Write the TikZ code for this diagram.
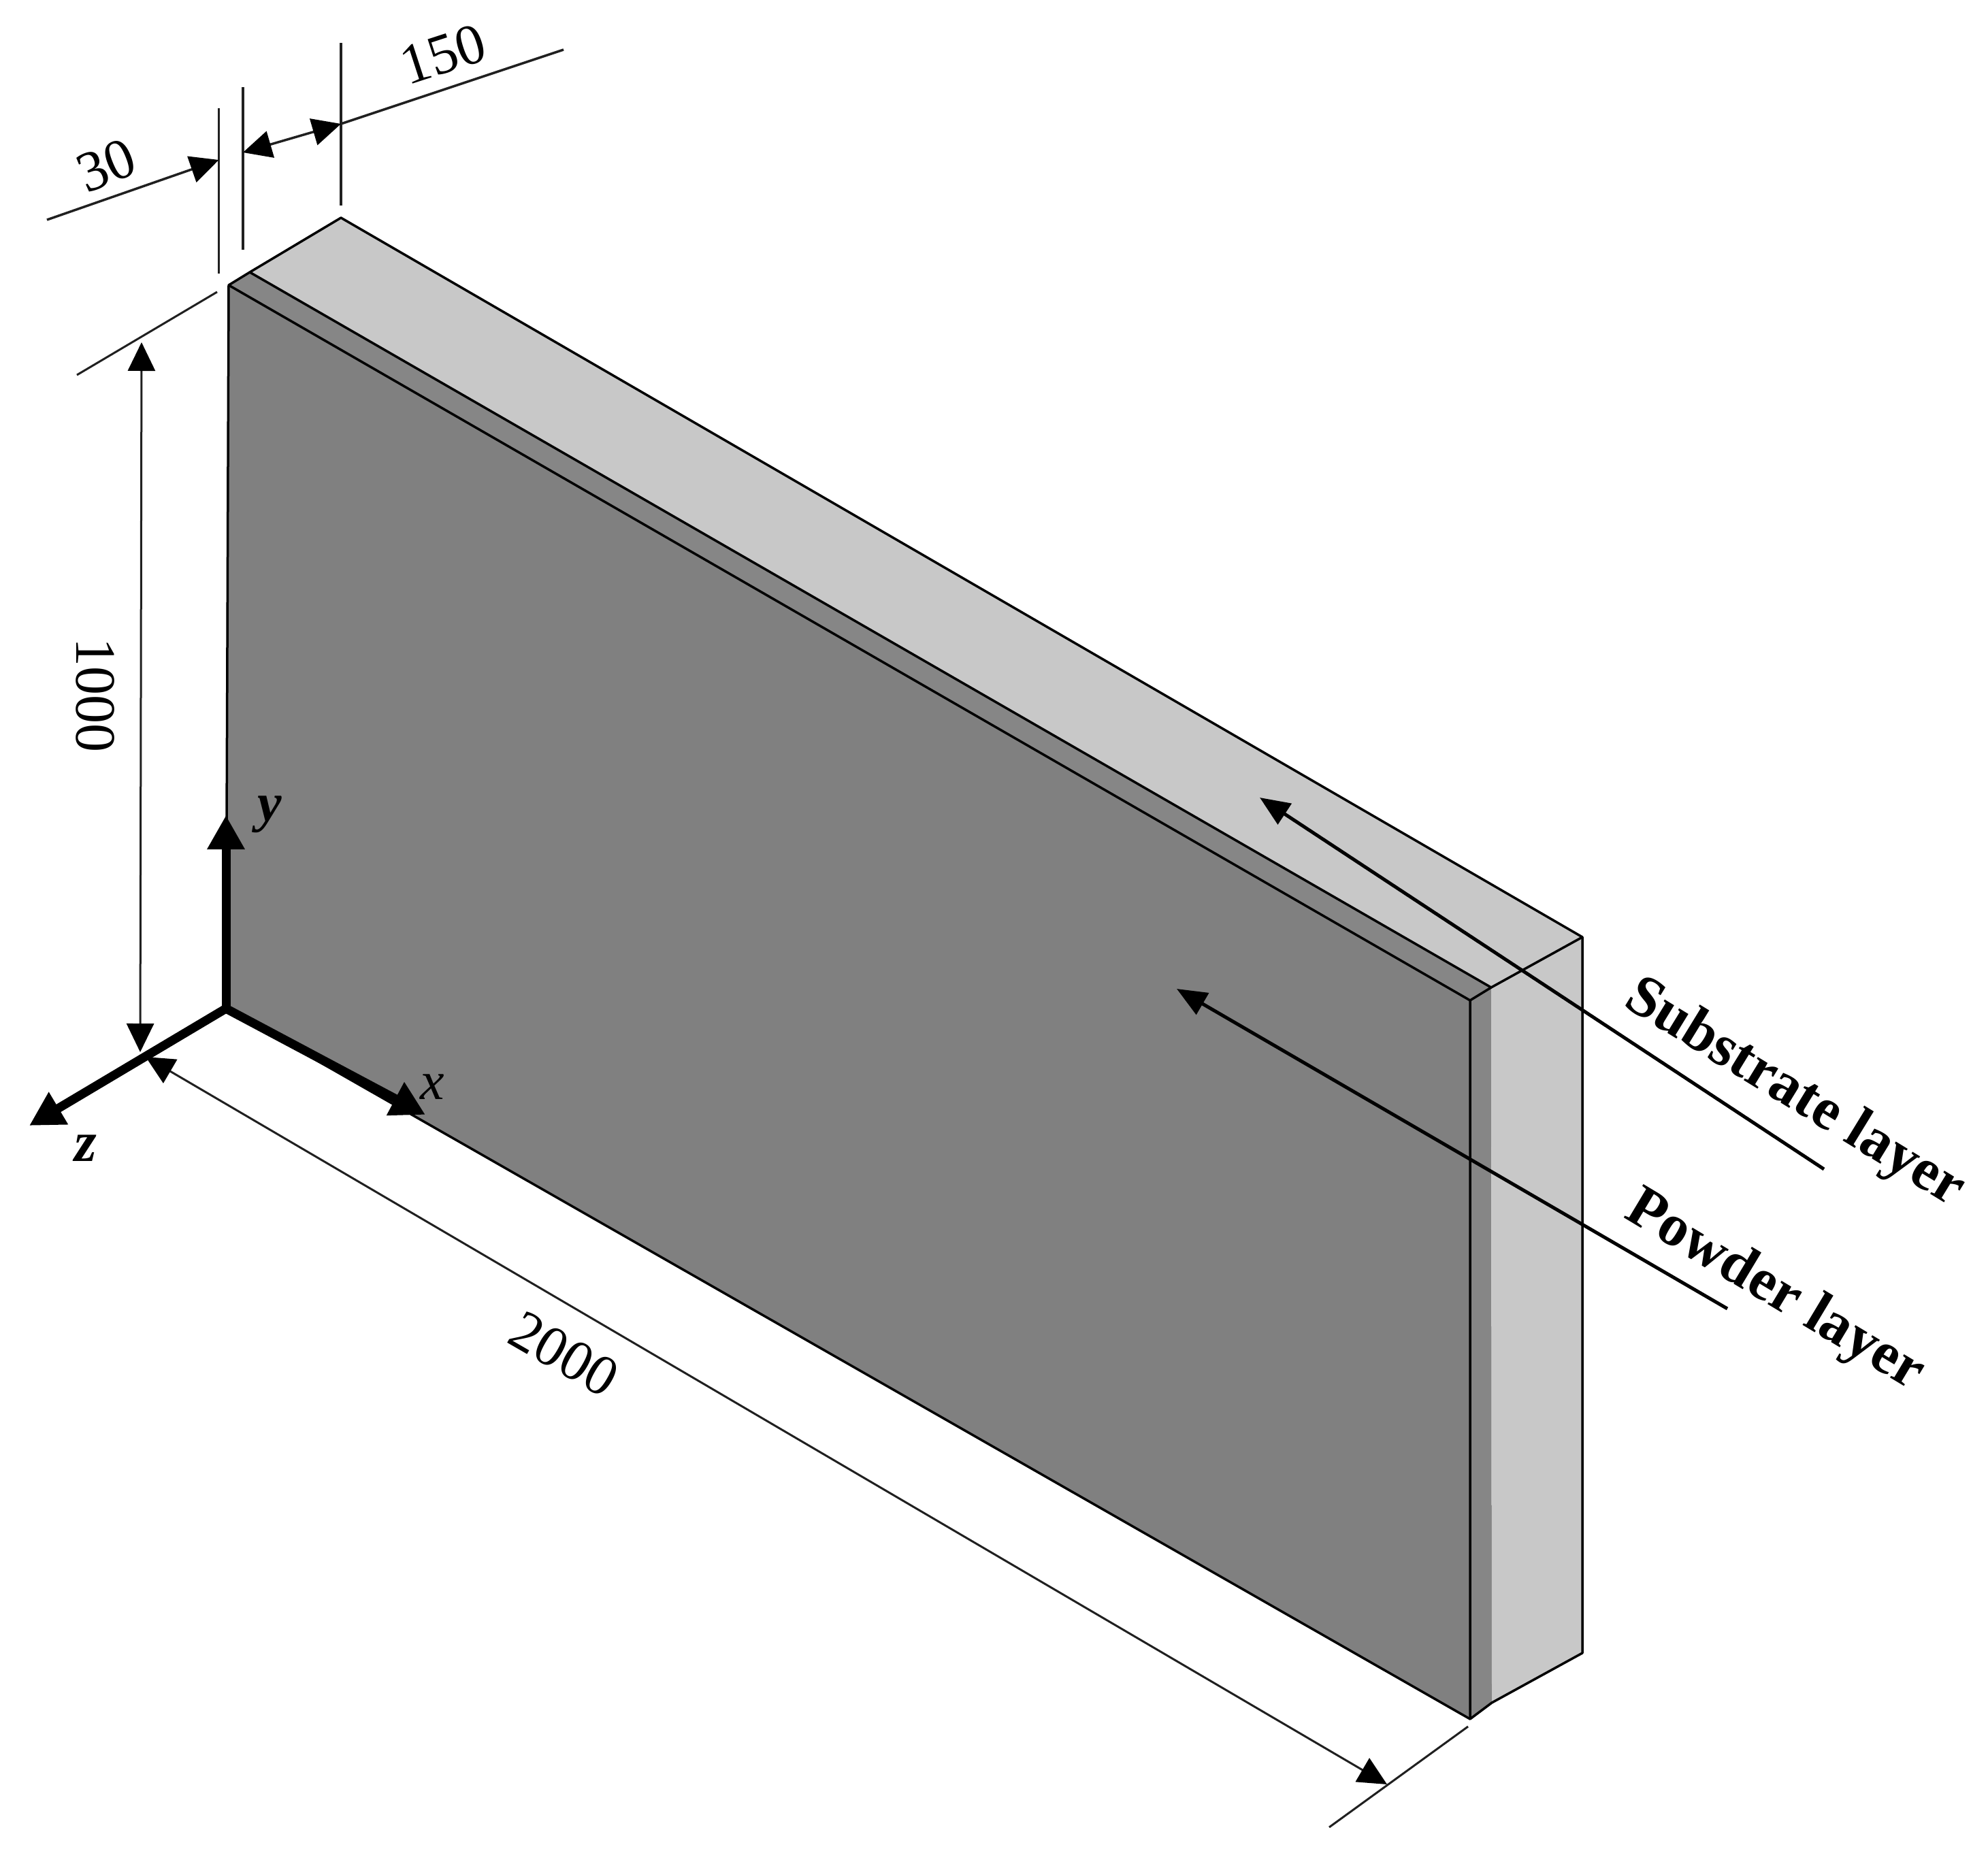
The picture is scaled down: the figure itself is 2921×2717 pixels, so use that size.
\documentclass[tikz,border=0pt]{standalone}
\usepackage{fontspec}
\setmainfont{Liberation Serif}
\usetikzlibrary{arrows.meta}
\definecolor{frontgray}{HTML}{808080}
\definecolor{stripgray}{HTML}{868686}
\definecolor{lightgray}{HTML}{C8C8C8}
\definecolor{dimgray}{HTML}{202020}
\tikzset{
  edge/.style={draw=black,line width=3.5pt,line join=round},
  dimline/.style={draw=dimgray,line width=3.5pt},
  thindim/.style={draw=dimgray,line width=3pt},
  dimhead/.style={-{Triangle[length=42pt,width=40pt,fill=black,color=black]}},
  dimboth/.style={{Triangle[length=42pt,width=40pt,fill=black,color=black]}-{Triangle[length=42pt,width=40pt,fill=black,color=black]}},
  axisline/.style={draw=black,line width=13pt,-{Triangle[length=50pt,width=52pt]}},
  callout/.style={draw=black,line width=5pt,-{Triangle[length=44pt,width=36pt]}},
  dimlabel/.style={inner sep=0pt,font=\fontsize{84}{92}\selectfont},
  axislabel/.style={inner sep=0pt,font=\fontsize{80}{88}\selectfont\itshape},
  layerlabel/.style={inner sep=0pt,font=\fontsize{87}{95}\selectfont\bfseries}
}
\begin{document}
\begin{tikzpicture}[x=1pt,y=-1pt]
\useasboundingbox (0,0) rectangle (2921,2717);
% block corners
\coordinate (fTL) at (336,419);
\coordinate (fBL) at (332,1482);
\coordinate (fTR) at (2160,1470);
\coordinate (fBR) at (2160,2526);
\coordinate (mTL) at (367,400);
\coordinate (mTR) at (2191,1451);
\coordinate (mBR) at (2192,2502);
\coordinate (bTL) at (501,320);
\coordinate (bTR) at (2325,1377);
\coordinate (bBR) at (2325,2429);
% faces
\fill[frontgray] (fTL) -- (fTR) -- (fBR) -- (fBL) -- cycle;
\fill[stripgray] (fTR) -- (mTR) -- (mBR) -- (fBR) -- cycle;
\fill[stripgray] (fTL) -- (mTL) -- (mTR) -- (fTR) -- cycle;
\fill[lightgray] (mTR) -- (bTR) -- (bBR) -- (mBR) -- cycle;
\fill[lightgray] (mTL) -- (bTL) -- (bTR) -- (mTR) -- cycle;
% edges
\draw[edge] (fBL) -- (fTL) -- (mTL) -- (bTL) -- (bTR) -- (bBR) -- (mBR) -- (fBR) -- cycle;
\draw[edge] (fTL) -- (fTR) -- (fBR);
\draw[edge] (mTL) -- (mTR) -- (bTR);
\draw[edge] (fTR) -- (mTR);
% dimension ticks
\coordinate (t1a) at (321.5,159); \coordinate (t1b) at (321.5,402);
\coordinate (t2a) at (357,128);   \coordinate (t2b) at (357,367);
\coordinate (t3a) at (501,63);    \coordinate (t3b) at (501,302);
\draw[dimline] (t1a) -- (t1b);
\draw[dimline] (t2a) -- (t2b);
\draw[dimline] (t3a) -- (t3b);
\coordinate (l30) at (69,323);   \coordinate (a30) at (321.5,235);
\coordinate (l150) at (828,73);  \coordinate (a150) at (501,182);
\coordinate (b150) at (357,224);
\draw[dimline,dimhead] (l30) -- (a30);
\draw[dimline] (l150) -- (a150);
\draw[dimline,dimboth] (b150) -- (a150);
% 1000 dimension
\coordinate (h1a) at (319,429); \coordinate (h1b) at (113,551);
\coordinate (d1a) at (208,503); \coordinate (d1b) at (206,1546);
\draw[thindim] (h1a) -- (h1b);
\draw[thindim,dimboth] (d1a) -- (d1b);
% 2000 dimension
\coordinate (h2a) at (2157,2537); \coordinate (h2b) at (1953,2685);
\coordinate (d2a) at (214,1553);  \coordinate (d2b) at (2038,2622);
\draw[thindim] (h2a) -- (h2b);
\draw[thindim,dimboth] (d2a) -- (d2b);
% axes
\coordinate (ytip) at (332,1198);
\coordinate (ztip) at (43,1654);
\coordinate (xtip) at (625,1638);
\draw[axisline] (fBL) -- (ytip);
\draw[axisline] (fBL) -- (ztip);
\draw[axisline] (fBL) -- (xtip);
% callouts
\coordinate (sEnd) at (2680,1718); \coordinate (sTip) at (1851,1172);
\coordinate (pEnd) at (2538,1923); \coordinate (pTip) at (1729,1453);
\draw[callout] (sEnd) -- (sTip);
\draw[callout] (pEnd) -- (pTip);
% labels
\node[dimlabel,rotate=22] (n30) at (156,243) {30};
\node[dimlabel,rotate=18] (n150) at (651,80) {150};
\node[dimlabel,rotate=-90] (n1000) at (140,1021) {1000};
\node[dimlabel,rotate=-30] (n2000) at (829,1990) {2000};
\node[axislabel,font=\fontsize{80}{88}\selectfont\bfseries\itshape] (ny) at (396,1197) {y};
\node[axislabel] (nx) at (635,1597) {x};
\node[axislabel,font=\fontsize{84}{92}\selectfont\bfseries\itshape] (nz) at (126,1687) {z};
\node[layerlabel,rotate=-31.5] (nsub) at (2636,1608) {Substrate layer};
\node[layerlabel,rotate=-31] (npow) at (2607,1898) {Powder layer};
\end{tikzpicture}
\end{document}
